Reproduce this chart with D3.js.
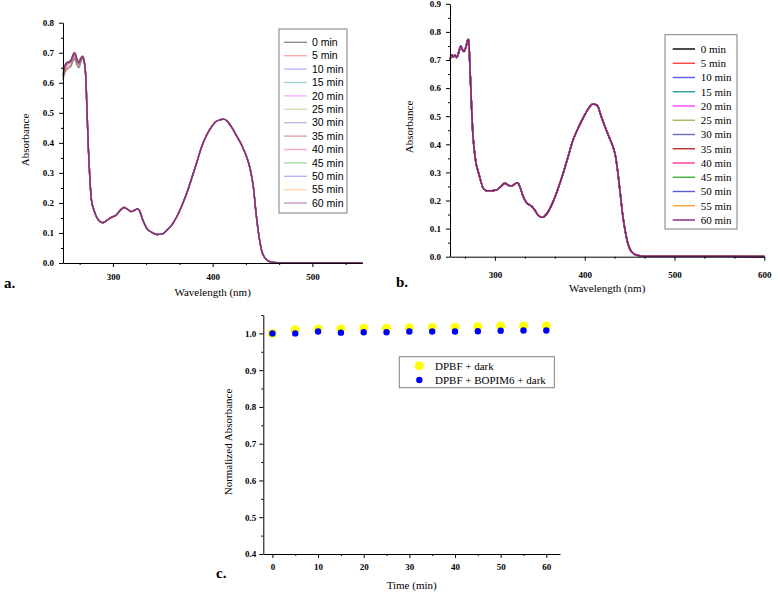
<!DOCTYPE html>
<html>
<head>
<meta charset="utf-8">
<script src="https://d3js.org/d3.v7.min.js"></script>
<style>
  body { margin: 0; background: #fff; }
  svg { font-family: "Liberation Serif", "Times New Roman", serif; }
  .tick text { font-family: "Liberation Serif", "Times New Roman", serif; font-weight: bold; font-size: 9px; }
  .axis path, .axis line { stroke: #000; }
</style>
</head>
<body>
<div id="chart"></div>
<script>
// ---- data ----
var times = ["0 min", "5 min", "10 min", "15 min", "20 min", "25 min", "30 min",
             "35 min", "40 min", "45 min", "50 min", "55 min", "60 min"];
var colors = ["#000000", "#ff4040", "#5a5aff", "#2e9a9a", "#ff40ff", "#b0b060", "#6a6ac0",
              "#b03030", "#ff3399", "#3cb03c", "#5a5ae0", "#ffa040", "#802080"];

// panel a: short-wavelength part differs per series, the rest overlaps
var headWlA = [250, 252, 254, 256, 258, 260, 261.5, 263, 264.5, 266, 267.5, 269.5, 271];
var headA = [
  [0.610, 0.635, 0.645, 0.650, 0.655, 0.672, 0.682, 0.668, 0.655, 0.650, 0.665, 0.680, 0.672],
  [0.615, 0.640, 0.652, 0.656, 0.662, 0.680, 0.688, 0.675, 0.660, 0.655, 0.670, 0.683, 0.673],
  [0.640, 0.655, 0.662, 0.665, 0.670, 0.688, 0.696, 0.684, 0.668, 0.662, 0.675, 0.686, 0.674],
  [0.625, 0.650, 0.660, 0.664, 0.668, 0.686, 0.694, 0.682, 0.667, 0.661, 0.674, 0.685, 0.674],
  [0.645, 0.660, 0.665, 0.668, 0.672, 0.690, 0.698, 0.686, 0.670, 0.664, 0.677, 0.687, 0.675],
  [0.630, 0.652, 0.662, 0.666, 0.670, 0.688, 0.697, 0.685, 0.669, 0.663, 0.676, 0.686, 0.675],
  [0.650, 0.662, 0.668, 0.670, 0.674, 0.692, 0.700, 0.688, 0.672, 0.666, 0.679, 0.688, 0.676],
  [0.620, 0.650, 0.663, 0.667, 0.671, 0.689, 0.698, 0.687, 0.671, 0.665, 0.678, 0.687, 0.676],
  [0.635, 0.656, 0.665, 0.668, 0.673, 0.691, 0.699, 0.688, 0.672, 0.666, 0.679, 0.688, 0.676],
  [0.628, 0.654, 0.666, 0.669, 0.674, 0.692, 0.700, 0.689, 0.673, 0.667, 0.680, 0.689, 0.676],
  [0.640, 0.658, 0.667, 0.670, 0.675, 0.693, 0.701, 0.690, 0.674, 0.668, 0.681, 0.689, 0.676],
  [0.618, 0.652, 0.666, 0.670, 0.675, 0.693, 0.701, 0.690, 0.674, 0.668, 0.681, 0.689, 0.676],
  [0.622, 0.655, 0.668, 0.670, 0.675, 0.692, 0.700, 0.690, 0.675, 0.668, 0.680, 0.688, 0.676]
];
var bodyWlA = [273, 274, 275.5, 277, 278.5, 281, 283.5, 287, 290, 293.5, 298.5, 303.5, 307, 311,
  314.5, 318.5, 322, 325, 327, 330, 334, 339, 344, 349, 354, 359, 364, 369, 374, 379, 384, 389,
  394, 399, 403, 407.5, 411, 414, 419, 424, 429, 434, 437.5, 441, 443.5, 446, 449, 452.5, 457.5,
  465, 480, 500, 550];
var bodyA = [0.610, 0.510, 0.376, 0.276, 0.210, 0.176, 0.154, 0.138, 0.134, 0.141, 0.152, 0.160,
  0.174, 0.185, 0.179, 0.171, 0.176, 0.181, 0.172, 0.143, 0.115, 0.102, 0.095, 0.096, 0.108, 0.126,
  0.154, 0.190, 0.232, 0.282, 0.334, 0.387, 0.426, 0.454, 0.470, 0.477, 0.479, 0.474, 0.452, 0.423,
  0.393, 0.354, 0.315, 0.248, 0.165, 0.099, 0.043, 0.016, 0.004, 0.001, 0.001, 0.001, 0.001];

// panel b: all 13 spectra coincide
var wlB = [250, 252, 253.7, 255.6, 257.4, 260, 261.9, 263.7, 265.6, 267.8, 270, 270.7, 272.2,
  273.7, 275.2, 277, 279, 281.5, 284, 287, 290.7, 296.3, 302, 306.3, 311, 316, 318.5, 322.2, 325.2,
  327.8, 331.5, 335.2, 340.7, 344.4, 348.1, 352, 354.4, 359.3, 364.8, 370.4, 376, 381.5, 387,
  392.6, 398, 402, 405.6, 409.3, 412.2, 414.8, 418.5, 423.3, 427.8, 431.5, 434.4, 437, 439.6,
  442.6, 445.6, 448.1, 452, 457.4, 465, 500, 600];
var absB = [0.700, 0.718, 0.712, 0.718, 0.709, 0.730, 0.750, 0.738, 0.730, 0.747, 0.773, 0.771,
  0.676, 0.558, 0.450, 0.380, 0.332, 0.302, 0.273, 0.243, 0.235, 0.235, 0.237, 0.249, 0.261,
  0.253, 0.251, 0.259, 0.263, 0.249, 0.214, 0.192, 0.180, 0.166, 0.148, 0.140, 0.142, 0.160,
  0.196, 0.243, 0.297, 0.356, 0.415, 0.457, 0.492, 0.516, 0.534, 0.543, 0.542, 0.534, 0.498,
  0.457, 0.421, 0.391, 0.356, 0.297, 0.225, 0.142, 0.083, 0.047, 0.018, 0.006, 0.002, 0.002, 0.001];

// panel c
var timeC = [0, 5, 10, 15, 20, 25, 30, 35, 40, 45, 50, 55, 60];
var dpbfDark = [1.000, 1.010, 1.012, 1.012, 1.014, 1.014, 1.015, 1.016, 1.017, 1.018, 1.020, 1.020, 1.020];
var dpbfBopimDark = [1.000, 1.000, 1.005, 1.002, 1.003, 1.003, 1.005, 1.005, 1.005, 1.006, 1.007, 1.008, 1.008];
var legendC = ["DPBF + dark", "DPBF + BOPIM6 + dark"];

// ---- drawing ----
var svg = d3.select("#chart").append("svg")
  .attr("width", 777).attr("height", 595);

function axes(g, x, y, o) {
  // minor ticks
  g.append("g").attr("class", "axis")
    .attr("transform", `translate(0,${y.range()[0]})`)
    .call(d3.axisBottom(x).tickValues(o.xMinor).tickSize(2).tickFormat(""))
    .select(".domain").remove();
  g.append("g").attr("class", "axis")
    .attr("transform", `translate(${x.range()[0]},0)`)
    .call(d3.axisLeft(y).tickValues(o.yMinor).tickSize(2).tickFormat(""))
    .select(".domain").remove();
  // major ticks
  g.append("g").attr("class", "axis")
    .attr("transform", `translate(0,${y.range()[0]})`)
    .call(d3.axisBottom(x).tickValues(o.xTicks).tickSize(4).tickSizeOuter(0)
      .tickPadding(o.xPad).tickFormat(d3.format("d")));
  g.append("g").attr("class", "axis")
    .attr("transform", `translate(${x.range()[0]},0)`)
    .call(d3.axisLeft(y).tickValues(o.yTicks).tickSize(4).tickSizeOuter(0)
      .tickPadding(o.yPad).tickFormat(d3.format(".1f")));
  g.append("text")
    .attr("x", (x.range()[0] + x.range()[1]) / 2).attr("y", o.xLabelY)
    .attr("text-anchor", "middle").style("font-size", "11px").text(o.xLabel);
  g.append("text")
    .attr("transform", `translate(${o.yLabelX},${o.yLabelY}) rotate(-90)`)
    .attr("text-anchor", "middle").attr("dy", "0.35em")
    .style("font-size", "11px").text(o.yLabel);
  g.append("text")
    .attr("x", o.tagX).attr("y", o.tagY)
    .style("font-size", "15px").style("font-weight", "bold").text(o.tag);
}

function legendLines(g, box, rowY, rowStep, lineX, textX, opacity, font, size) {
  g.append("rect")
    .attr("x", box[0]).attr("y", box[1]).attr("width", box[2]).attr("height", box[3])
    .attr("fill", "#fff").attr("stroke", "#808080").attr("stroke-width", 1);
  var rows = g.selectAll(".lg").data(times).enter().append("g")
    .attr("transform", (d, i) => `translate(0,${rowY + i * rowStep})`);
  rows.append("line")
    .attr("x1", lineX[0]).attr("x2", lineX[1])
    .attr("stroke", (d, i) => colors[i]).attr("stroke-width", 1.4)
    .attr("stroke-opacity", opacity);
  rows.append("text")
    .attr("x", textX).attr("dy", "0.35em")
    .style("font-family", font).style("font-size", size)
    .text(d => d);
}

/* panel a */
var xA = d3.scaleLinear().domain([250, 550]).range([63, 362.3]);
var yA = d3.scaleLinear().domain([0, 0.8]).range([263, 22.7]);
var gA = svg.append("g");
var lineA = d3.line().x(d => xA(d[0])).y(d => yA(d[1])).curve(d3.curveMonotoneX);
var seriesA = headA.map(h => headWlA.map((w, i) => [w, h[i]])
  .concat(bodyWlA.map((w, i) => [w, bodyA[i]])));
gA.selectAll(".sa").data(seriesA).enter().append("path")
  .attr("d", lineA).attr("fill", "none")
  .attr("stroke", (d, i) => colors[i]).attr("stroke-width", 1.4)
  .attr("stroke-opacity", (d, i) => i === colors.length - 1 ? 0.85 : 0.45);
axes(gA, xA, yA, {
  xTicks: [300, 400, 500], xMinor: [266.67, 333.33, 366.67, 433.33, 466.67, 533.33],
  yTicks: d3.range(0, 0.81, 0.1), yMinor: d3.range(0.05, 0.8, 0.1),
  xPad: 7, yPad: 5, xLabel: "Wavelength (nm)", xLabelY: 296,
  yLabel: "Absorbance", yLabelX: 25, yLabelY: 140, tag: "a.", tagX: 4, tagY: 288
});
legendLines(gA, [279, 29, 68, 184], 42.3, 13.4, [284, 307], 312, 0.45,
  "'Liberation Sans', Arial, sans-serif", "10.5px");

/* panel b */
var xB = d3.scaleLinear().domain([250, 600]).range([450, 764.3]);
var yB = d3.scaleLinear().domain([0, 0.9]).range([256.7, 3.8]);
var gB = svg.append("g");
var lineB = d3.line().x((d, i) => xB(wlB[i])).y(d => yB(d)).curve(d3.curveMonotoneX);
gB.selectAll(".sb").data(times).enter().append("path")
  .attr("d", () => lineB(absB)).attr("fill", "none")
  .attr("stroke", (d, i) => colors[i]).attr("stroke-width", 1.5);
axes(gB, xB, yB, {
  xTicks: [300, 400, 500, 600],
  xMinor: [266.67, 333.33, 366.67, 433.33, 466.67, 533.33, 566.67],
  yTicks: d3.range(0, 0.91, 0.1), yMinor: d3.range(0.05, 0.9, 0.1),
  xPad: 11, yPad: 5, xLabel: "Wavelength (nm)", xLabelY: 292,
  yLabel: "Absorbance", yLabelX: 409, yLabelY: 127, tag: "b.", tagX: 396, tagY: 287
});
legendLines(gB, [665, 34.7, 72, 194.3], 49, 14.25, [672.7, 695], 700.7, 1,
  "'Liberation Serif', 'Times New Roman', serif", "11px");

/* panel c */
var xC = d3.scaleLinear().domain([-2, 63]).range([263.3, 560]);
var yC = d3.scaleLinear().domain([0.4, 1.05]).range([554, 315]);
var gC = svg.append("g");
axes(gC, xC, yC, {
  xTicks: d3.range(0, 61, 10), xMinor: d3.range(5, 60, 10),
  yTicks: d3.range(0.4, 1.01, 0.1), yMinor: d3.range(0.45, 1.06, 0.1),
  xPad: 6, yPad: 3, xLabel: "Time (min)", xLabelY: 589,
  yLabel: "Normalized Absorbance", yLabelX: 228, yLabelY: 442, tag: "c.", tagX: 216, tagY: 578
});
gC.selectAll(".dy").data(dpbfDark).enter().append("circle")
  .attr("cx", (d, i) => xC(timeC[i])).attr("cy", d => yC(d))
  .attr("r", 4.5).attr("fill", "#ffff00");
gC.selectAll(".db").data(dpbfBopimDark).enter().append("circle")
  .attr("cx", (d, i) => xC(timeC[i])).attr("cy", d => yC(d))
  .attr("r", 3.2).attr("fill", "#0000ff");
gC.append("rect")
  .attr("x", 399.3).attr("y", 356.7).attr("width", 155).attr("height", 31)
  .attr("fill", "#fff").attr("stroke", "#808080").attr("stroke-width", 1);
var lgC = gC.selectAll(".lc").data(legendC).enter().append("g")
  .attr("transform", (d, i) => `translate(0,${365.7 + i * 14.3})`);
lgC.append("circle").attr("cx", 419.3).attr("r", (d, i) => i ? 3.2 : 4.5)
  .attr("fill", (d, i) => i ? "#0000ff" : "#ffff00");
lgC.append("text").attr("x", 435).attr("dy", "0.35em")
  .style("font-size", "11px").text(d => d);
</script>
</body>
</html>
